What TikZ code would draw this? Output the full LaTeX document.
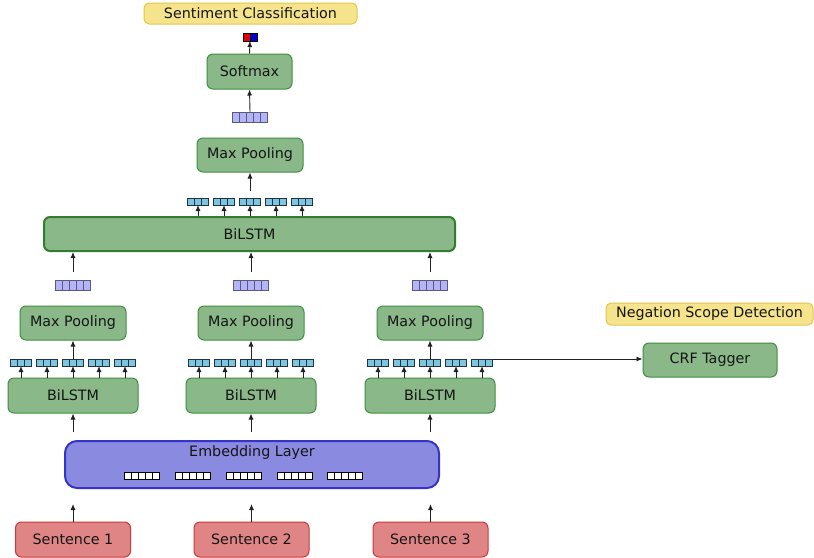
\documentclass[tikz,border=0pt]{standalone}
\usepackage{fontspec}
\setmainfont{DejaVu Sans}
\usetikzlibrary{arrows.meta,calc}
\definecolor{gfill}{HTML}{8AB888}
\definecolor{gdraw}{HTML}{3E8F3E}
\definecolor{gdark}{HTML}{2F7F2F}
\definecolor{rfill}{HTML}{E08585}
\definecolor{rdraw}{HTML}{CC3838}
\definecolor{yfill}{HTML}{F5E48C}
\definecolor{ydraw}{HTML}{E6C64A}
\definecolor{efill}{HTML}{8A8AE0}
\definecolor{edraw}{HTML}{3434C8}
\definecolor{cfill}{HTML}{7EC6E0}
\definecolor{cdraw}{HTML}{1E3446}
\definecolor{lfill}{HTML}{B4B4FA}
\definecolor{ldraw}{HTML}{5A5A78}
\definecolor{arr}{HTML}{222222}
\definecolor{txt}{HTML}{151515}
\tikzset{
  box/.style={rounded corners=6pt, line width=1pt, inner sep=0pt, text=txt,
    font=\fontsize{14.3}{17}\selectfont},
  gbox/.style={box, fill=gfill, draw=gdraw},
  rbox/.style={box, fill=rfill, draw=rdraw},
  ybox/.style={box, fill=yfill, draw=ydraw, rounded corners=5pt},
  cvec/.style={draw=cdraw, fill=cfill, line width=0.8pt, minimum width=21pt,
    minimum height=7pt, inner sep=0pt, outer sep=0pt,
    path picture={\foreach \k in {7,14} \draw[cdraw, line width=0.8pt]
      ([xshift=\k pt]path picture bounding box.south west) --
      ([xshift=\k pt]path picture bounding box.north west);}},
  lvec/.style={draw=ldraw, fill=lfill, line width=0.8pt, minimum width=35pt,
    minimum height=10pt, inner sep=0pt, outer sep=0pt,
    path picture={\foreach \k in {7,14,21,28} \draw[ldraw, line width=0.8pt]
      ([xshift=\k pt]path picture bounding box.south west) --
      ([xshift=\k pt]path picture bounding box.north west);}},
  evec/.style={draw=black, fill=white, line width=0.8pt, minimum width=35pt,
    minimum height=7pt, inner sep=0pt, outer sep=0pt,
    path picture={\foreach \k in {7,14,21,28} \draw[black, line width=0.8pt]
      ([xshift=\k pt]path picture bounding box.south west) --
      ([xshift=\k pt]path picture bounding box.north west);}},
  ovec/.style={draw=black, line width=0.8pt, minimum width=14pt,
    minimum height=8pt, inner sep=0pt, outer sep=0pt,
    path picture={
      \fill[red!90!black] (path picture bounding box.south west) rectangle (path picture bounding box.north);
      \fill[blue!85!black] (path picture bounding box.south) rectangle (path picture bounding box.north east);
      \draw[black, line width=0.8pt] (path picture bounding box.south) -- (path picture bounding box.north);}},
  conn/.style={draw=arr, line width=0.9pt, -{Latex[length=6pt,width=5pt]}},
}
\begin{document}
\begin{tikzpicture}[x=1pt,y=-1pt]
\useasboundingbox (0,0) rectangle (814,557);

% top part
\node[ybox, minimum width=213pt, minimum height=21pt] (sc) at (250.5,13.5) {Sentiment Classification};
\node[ovec] (out) at (250,37) {};
\node[gbox, minimum width=85pt, minimum height=35pt] (soft) at (249.5,71.5) {Softmax};
\node[lvec] (lt) at (250,117) {};
\node[gbox, minimum width=106pt, minimum height=34pt] (mpt) at (250,155) {Max Pooling};
\foreach \x/\n in {198/1,224/2,250/3,276/4,302/5}
  \node[cvec] (ct\n) at (\x,201.5) {};
\node[gbox, draw=gdark, line width=2pt, minimum width=411pt, minimum height=34pt] (bt) at (249.5,234) {BiLSTM};

% three columns
\foreach \c/\i in {73/1,251/2,430/3}{
  \node[lvec] (lv\i) at (\c,285.5) {};
  \node[gbox, minimum width=106pt, minimum height=34pt] (mp\i) at (\c,323) {Max Pooling};
  \foreach \d/\n in {-52/a,-26/b,0/c,26/d,52/e}
    \node[cvec] (cv\i\n) at (\c+\d,362.5) {};
  \node[gbox, minimum width=130pt, minimum height=35pt] (bl\i) at (\c,395.5) {BiLSTM};
}

% embedding
\node[box, fill=efill, draw=edraw, line width=2pt, rounded corners=12pt,
  minimum width=374pt, minimum height=47pt] (emb) at (252,464.5) {};
\node[text=txt, font=\fontsize{14.3}{17}\selectfont, inner sep=0pt] (embt) at (252,453) {Embedding Layer};
\foreach \x/\n in {142/1,193/2,244/3,295/4,345/5}
  \node[evec] (ev\n) at (\x,475.5) {};

% sentences
\node[rbox, minimum width=115pt, minimum height=35pt] (s1) at (73,539.5) {Sentence 1};
\node[rbox, minimum width=115pt, minimum height=35pt] (s2) at (251.5,539.5) {Sentence 2};
\node[rbox, minimum width=115pt, minimum height=35pt] (s3) at (430.5,539.5) {Sentence 3};

% negation
\node[ybox, minimum width=207pt, minimum height=22pt] (neg) at (709.5,314) {Negation Scope Detection};
\node[gbox, minimum width=134pt, minimum height=34pt] (crf) at (710,360) {CRF Tagger};

% connectors top
\draw[conn] (soft.north) -- (out.south);
\draw[conn] (lt.north) -- (soft.south);
\draw[conn, shorten <=7pt] (ct3.north) -- (mpt.south);
\foreach \n in {1,...,5}
  \draw[conn] (ct\n.south |- bt.north) -- (ct\n.south);

% columns connectors
\foreach \i in {1,2,3}{
  \draw[conn, shorten <=9pt] (lv\i.north) -- (lv\i.north |- bt.south);
  \draw[conn] (cv\i c.north) -- (mp\i.south);
  \foreach \n in {a,b,c,d,e}
    \draw[conn] (cv\i\n.south |- bl\i.north) -- (cv\i\n.south);
  \draw[conn, shorten <=8pt] (bl\i.south |- emb.north) -- (bl\i.south);
  \draw[conn, shorten >=15pt] (s\i.north) -- (s\i.north |- emb.south);
}

\draw[conn] (cv3e.north east) -- (cv3e.north east -| crf.west);
\end{tikzpicture}
\end{document}
